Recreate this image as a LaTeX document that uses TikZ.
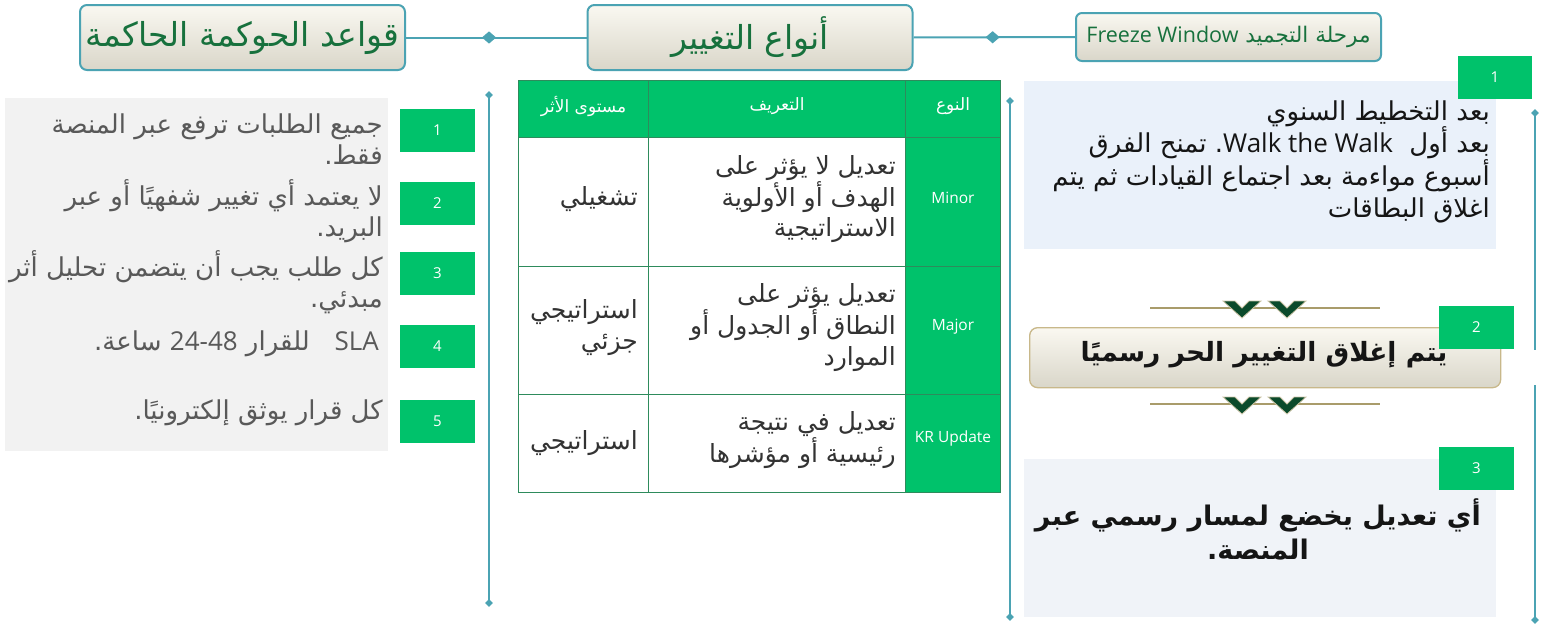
\documentclass[tikz,border=0pt]{standalone}
\usepackage{fontspec}
\setmainfont{Open Sans}
\newfontfamily\arf[Script=Arabic]{DejaVu Sans}
\newfontfamily\latf{Open Sans}
\TeXXeTstate=1
\frenchspacing
\newcommand\AR[1]{{\arf\beginR #1\endR}}
\newcommand\LR[1]{\beginL\hbox{\latf #1}\endL{}}
\usetikzlibrary{shapes.geometric}
\definecolor{cTeal}{HTML}{4BA3B3}
\definecolor{cGreen}{HTML}{00C26B}
\definecolor{cGray}{HTML}{F2F2F2}
\definecolor{cGrayTxt}{HTML}{595959}
\definecolor{cBorder}{HTML}{2E8B5C}
\definecolor{hTop}{HTML}{FAF8F1}
\definecolor{hBot}{HTML}{D9D6C9}
\definecolor{hText}{HTML}{17713D}
\definecolor{cBlueA}{HTML}{EAF1FA}
\definecolor{cBlueB}{HTML}{F0F3F8}
\definecolor{cGold}{HTML}{A99C6B}
\definecolor{cChev}{HTML}{0B4A2B}
\definecolor{cBtwo}{HTML}{C8B88A}
\definecolor{cDark}{HTML}{333333}
\definecolor{cBlack}{HTML}{151515}
\begin{document}
\begin{tikzpicture}[x=1pt,y=-1pt,
  conn/.style={draw=cTeal, line width=2pt},
  vline/.style={draw=cTeal, line width=2.5pt},
  dia/.style={diamond, fill=cTeal, inner sep=0pt, minimum width=15pt, minimum height=13pt},
  sdia/.style={diamond, fill=cTeal, inner sep=0pt, minimum size=8pt},
  hdr/.style={draw=cTeal, line width=2pt, rounded corners=7pt, top color=hTop, bottom color=hBot,
    text=hText, inner sep=0pt, minimum width=325pt, minimum height=65pt, font=\fontsize{33}{38}\selectfont},
  numbox/.style={fill=cGreen, text=white, inner sep=0pt, minimum width=75pt, minimum height=43pt,
    font=\latf\fontsize{15}{17}\selectfont},
  ltxt/.style={text=cGrayTxt, align=right, inner sep=0pt, anchor=east, font=\fontsize{26}{30.5}\selectfont},
  cell/.style={draw=cBorder, line width=1pt, inner sep=0pt, anchor=north west},
  gcell/.style={cell, fill=cGreen},
  wcell/.style={cell, fill=white},
  htxt/.style={text=white, inner sep=0pt, font=\fontsize{17}{19}\selectfont},
  ltype/.style={text=white, inner sep=0pt, font=\latf\fontsize{15.5}{18}\selectfont},
  ttxt/.style={text=cDark, align=right, inner sep=0pt, anchor=east, font=\fontsize{25}{30.5}\selectfont},
  panel/.style={inner sep=0pt, anchor=north west},
  chev/.pic={\fill[cChev, draw=cGold!60, line width=0.8pt] (-19,-8) -- (-7,-8) -- (0,-1) -- (7,-8) -- (19,-8) -- (0,9) -- cycle;}
]
\useasboundingbox (0,0) rectangle (1551,624);

% headers
\node[hdr] (h1) at (242.5,37.5) {\AR{قواعد الحوكمة الحاكمة}};
\node[hdr] (h2) at (750,37.5) {\AR{أنواع التغيير}};
\node[hdr, minimum width=305pt, minimum height=48pt, rounded corners=6pt, font=\fontsize{21.5}{25}\selectfont] (h3) at (1228.5,37) {\AR{مرحلة التجميد \LR{Freeze Window}}};
\draw[conn] (h1.east) -- node[dia, pos=0.46] (dA) {} (h2.west);
\draw[conn] (h2.east) -- node[dia, pos=0.49] (dB) {} (h3.west);

% left list
\node[panel, fill=cGray, minimum width=383pt, minimum height=353pt] (lp) at (5,98) {};
\node[numbox] (n1) at (437.5,130.5) {1};
\node[numbox] (n2) at (437.5,203.5) {2};
\node[numbox] (n3) at (437.5,273.5) {3};
\node[numbox] (n4) at (437.5,346.5) {4};
\node[numbox] (n5) at (437.5,421.5) {5};
\node[ltxt] (l1) at (383,139) {\AR{جميع الطلبات ترفع عبر المنصة}\\\AR{فقط.}};
\node[ltxt] (l2) at (383,211) {\AR{لا يعتمد أي تغيير شفهيًا أو عبر}\\\AR{البريد.}};
\node[ltxt] (l3) at (383,282) {\AR{كل طلب يجب أن يتضمن تحليل أثر}\\\AR{مبدئي.}};
\node[ltxt] (l4) at (379,344) {\AR{\LR{SLA}\ \ \ للقرار \LR{24-48} ساعة.}};
\node[ltxt] (l5) at (383,413) {\AR{كل قرار يوثق إلكترونيًا.}};

% vertical line 1
\coordinate (v1t) at (489,95);
\coordinate (v1b) at (489,603);
\draw[vline] (v1t) -- (v1b);
\node[sdia] (v1td) at (v1t) {};
\node[sdia] (v1bd) at (v1b) {};

% table
\node[gcell, minimum width=130pt, minimum height=57pt] (t0a) at (518,80) {};
\node[gcell, minimum width=257pt, minimum height=57pt] (t0b) at (648,80) {};
\node[gcell, minimum width=95pt, minimum height=57pt] (t0c) at (905,80) {};
\node[wcell, minimum width=130pt, minimum height=129pt] (t1a) at (518,137) {};
\node[wcell, minimum width=257pt, minimum height=129pt] (t1b) at (648,137) {};
\node[gcell, minimum width=95pt, minimum height=129pt] (t1c) at (905,137) {};
\node[wcell, minimum width=130pt, minimum height=128pt] (t2a) at (518,266) {};
\node[wcell, minimum width=257pt, minimum height=128pt] (t2b) at (648,266) {};
\node[gcell, minimum width=95pt, minimum height=128pt] (t2c) at (905,266) {};
\node[wcell, minimum width=130pt, minimum height=98pt] (t3a) at (518,394) {};
\node[wcell, minimum width=257pt, minimum height=98pt] (t3b) at (648,394) {};
\node[gcell, minimum width=95pt, minimum height=98pt] (t3c) at (905,394) {};

\node[htxt] (x0a) at ([yshift=3pt]t0a.center) {\AR{مستوى الأثر}};
\node[htxt] (x0b) at ([yshift=3pt]t0b.center) {\AR{التعريف}};
\node[htxt] (x0c) at ([yshift=3pt]t0c.center) {\AR{النوع}};
\node[ltype] (x1c) at ([yshift=4pt]t1c.center) {Minor};
\node[ltype] (x2c) at ([yshift=4pt]t2c.center) {Major};
\node[ltype] (x3c) at ([yshift=5pt]t3c.center) {KR Update};

\node[ttxt] (x1b) at ([xshift=-10pt,yshift=3pt]t1b.east) {\AR{تعديل لا يؤثر على}\\\AR{الهدف أو الأولوية}\\\AR{الاستراتيجية}};
\node[ttxt] (x2b) at ([xshift=-10pt,yshift=3pt]t2b.east) {\AR{تعديل يؤثر على}\\\AR{النطاق أو الجدول أو}\\\AR{الموارد}};
\node[ttxt] (x3b) at ([xshift=-10pt,yshift=3pt]t3b.east) {\AR{تعديل في نتيجة}\\\AR{رئيسية أو مؤشرها}};
\node[ttxt] (x1a) at ([xshift=-11pt,yshift=3pt]t1a.east) {\AR{تشغيلي}};
\node[ttxt] (x2a) at ([xshift=-11pt,yshift=3pt]t2a.east) {\AR{استراتيجي}\\\AR{جزئي}};
\node[ttxt] (x3a) at ([xshift=-11pt,yshift=0pt]t3a.east) {\AR{استراتيجي}};

% vertical line 2
\coordinate (v2t) at (1010,101);
\coordinate (v2b) at (1010,617);
\draw[vline] (v2t) -- (v2b);
\node[sdia] (v2td) at (v2t) {};
\node[sdia] (v2bd) at (v2b) {};

% right panel box 1
\node[panel, fill=cBlueA, minimum width=472pt, minimum height=168pt] (b1) at (1024,81) {};
\node[text=cBlack, align=right, inner sep=0pt, anchor=east, font=\fontsize{26}{32.5}\selectfont] (b1t) at (1490,162)
  {\AR{بعد التخطيط السنوي}\\\AR{بعد أول\ \ \LR{Walk the Walk}. تمنح الفرق}\\\AR{أسبوع مواءمة بعد اجتماع القيادات ثم يتم}\\\AR{اغلاق البطاقات}};
\node[numbox, minimum width=74pt] (m1) at (1495,77.5) {1};

% decorations
\coordinate (g1l) at (1150,308);
\coordinate (g1r) at (1380,308);
\draw[cGold, line width=2pt] (g1l) -- (g1r);
\pic (c1) at (1242,309) {chev};
\pic (c2) at (1287,309) {chev};
\coordinate (g2l) at (1150,404);
\coordinate (g2r) at (1380,404);
\draw[cGold, line width=2pt] (g2l) -- (g2r);
\pic (c3) at (1242,405) {chev};
\pic (c4) at (1287,405) {chev};

% box 2
\node[panel, draw=cBtwo, line width=1.3pt, rounded corners=8pt, top color=hTop, bottom color=hBot, minimum width=471pt, minimum height=60pt] (b2) at (1029,327) {};
\node[text=cBlack, inner sep=0pt, font=\bfseries\fontsize{26.5}{32}\selectfont] (b2t) at (1264,355) {\AR{يتم إغلاق التغيير الحر رسميًا}};
\node[numbox] (m2) at (1476.5,327) {2};

% box 3
\node[panel, fill=cBlueB, minimum width=472pt, minimum height=158pt] (b3) at (1024,459) {};
\node[numbox] (m3) at (1476.5,468) {3};
\node[text=cBlack, align=center, inner sep=0pt, font=\bfseries\fontsize{27}{34}\selectfont] (b3t) at (1258,529)
  {\AR{أي تعديل يخضع لمسار رسمي عبر}\\\AR{المنصة.}};

% right vertical line (broken)
\coordinate (v3t) at (1535,113);
\coordinate (v3m) at (1535,350);
\coordinate (v3n) at (1535,385);
\coordinate (v3b) at (1535,620);
\draw[vline] (v3t) -- (v3m);
\draw[vline] (v3n) -- (v3b);
\node[sdia] (v3td) at (v3t) {};
\node[sdia] (v3bd) at (v3b) {};
\end{tikzpicture}
\end{document}
